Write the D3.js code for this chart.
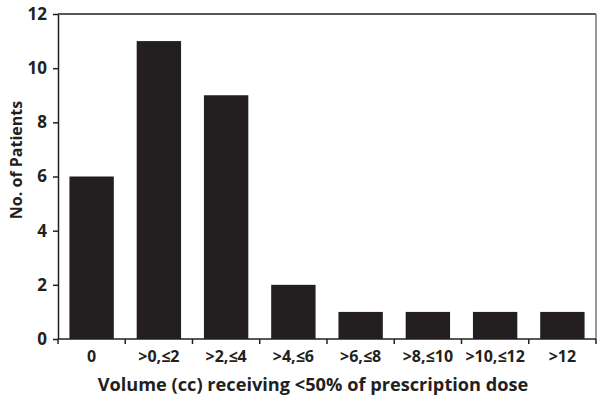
<!DOCTYPE html>
<html>
<head>
<meta charset="utf-8">
<script src="https://cdn.jsdelivr.net/npm/d3@7"></script>
<style>
  body { margin: 0; background: #fff; }
  svg text { font-family: "Open Sans", "Noto Sans", sans-serif; font-weight: 700; fill: #231f20; }
</style>
</head>
<body>
<div id="chart"></div>
<script>
const categories = ['0', '>0,\u22642', '>2,\u22644', '>4,\u22646', '>6,\u22648', '>8,\u226410', '>10,\u226412', '>12'];
const patients = [6, 11, 9, 2, 1, 1, 1, 1];
const yTicks = [0, 2, 4, 6, 8, 10, 12];

const width = 604, height = 404;
const margin = {top: 14, right: 8, bottom: 65, left: 58};
const sWidth = width - margin.left - margin.right;
const sHeight = height - margin.top - margin.bottom;

const svg = d3.select('#chart').append('svg')
  .attr('width', width)
  .attr('height', height);
const chart = svg.append('g')
  .attr('transform', 'translate(' + margin.left + ',' + margin.top + ')');

const xScale = d3.scaleBand().domain(categories).range([0, sWidth]).padding(0);
const yScale = d3.scaleLinear().domain([0, 12]).range([sHeight, 0]);

// frame top / right
chart.append('line').attr('x1', 0).attr('x2', sWidth).attr('y1', 0).attr('y2', 0)
  .attr('stroke', '#231f20').attr('stroke-width', 1.5);
chart.append('line').attr('x1', sWidth).attr('x2', sWidth).attr('y1', 0).attr('y2', sHeight)
  .attr('stroke', '#777').attr('stroke-width', 1.5);

// bars
const barFrac = 0.66;
chart.selectAll('rect.bar')
  .data(patients)
  .enter().append('rect')
  .attr('class', 'bar')
  .attr('x', (d, i) => xScale(categories[i]) + xScale.bandwidth() * (1 - barFrac) / 2)
  .attr('width', xScale.bandwidth() * barFrac)
  .attr('y', d => yScale(d))
  .attr('height', d => sHeight - yScale(d))
  .attr('fill', '#231f20');

// y axis
const yAxis = chart.append('g')
  .call(d3.axisLeft(yScale).tickValues(yTicks).tickSize(5).tickSizeOuter(0).tickPadding(6));
yAxis.select('.domain').attr('stroke', '#231f20').attr('stroke-width', 1.5);
yAxis.selectAll('.tick line').attr('stroke', '#231f20').attr('stroke-width', 1.5);
yAxis.selectAll('.tick text').style('font-size', '17px');

// x axis: ticks at band boundaries
const xAxis = chart.append('g').attr('transform', 'translate(0,' + sHeight + ')');
xAxis.append('line').attr('x1', 0).attr('x2', sWidth)
  .attr('stroke', '#231f20').attr('stroke-width', 1.5);
const bounds = categories.map(c => xScale(c)).concat([sWidth]);
xAxis.selectAll('line.tk').data(bounds).enter().append('line')
  .attr('class', 'tk')
  .attr('x1', d => d).attr('x2', d => d).attr('y1', 0).attr('y2', 5)
  .attr('stroke', '#231f20').attr('stroke-width', 1.5);
xAxis.selectAll('text.lbl').data(categories).enter().append('text')
  .attr('class', 'lbl')
  .attr('x', d => xScale(d) + xScale.bandwidth() / 2)
  .attr('y', 23)
  .attr('text-anchor', 'middle')
  .style('font-size', '16px')
  .text(d => d);

// axis titles
svg.append('text')
  .attr('x', 313)
  .attr('y', 391)
  .attr('text-anchor', 'middle')
  .style('font-size', '18.2px')
  .text('Volume (cc) receiving <50% of prescription dose');

svg.append('text')
  .attr('transform', 'translate(22,160) rotate(-90)')
  .attr('text-anchor', 'middle')
  .style('font-size', '16px')
  .text('No. of Patients');
</script>
</body>
</html>
